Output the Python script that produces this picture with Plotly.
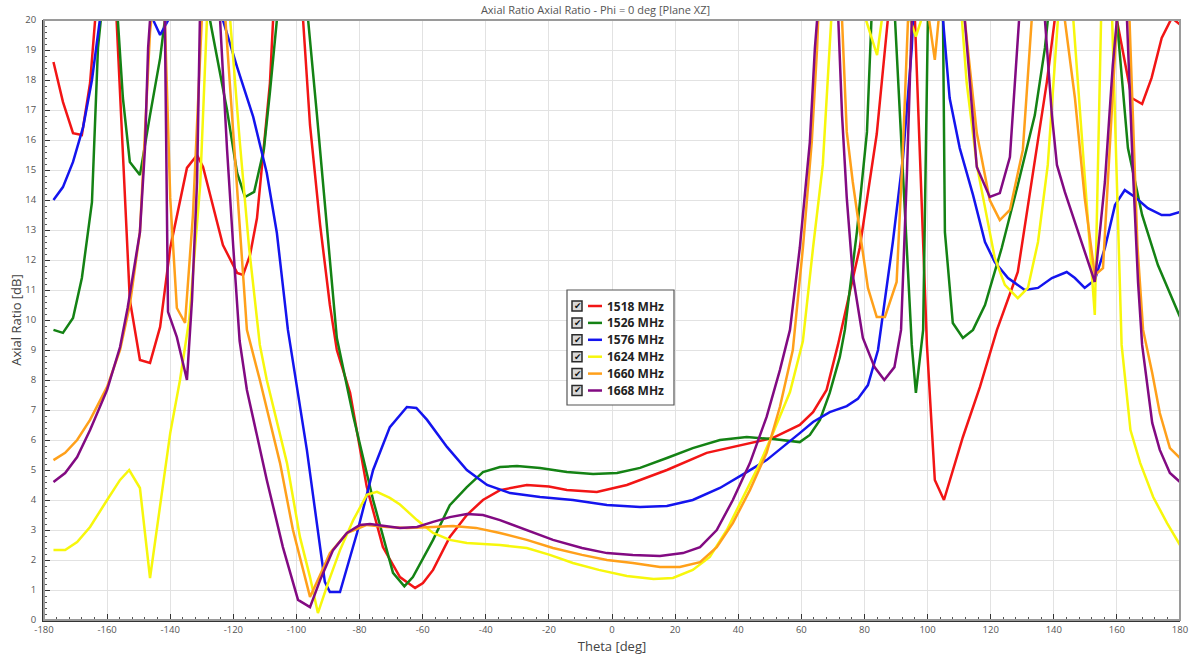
import plotly.graph_objects as go

# ---------------- data ----------------
theta_1518 = [-177, -174, -170.8, -168, -165.4, -163.8, -160, -157, -152.8, -149.6, -146.4, -143.2, -140,
              -134.7, -131.5, -129.6, -123.3, -118.8, -116.9, -114.7, -112.5, -110.6, -108.4, -107.4, -102,
              -97.9, -95.7, -92.5, -89.4, -87.2, -83, -77.7, -72.6, -67.2, -62.4, -59.9, -56.7, -51.4, -46,
              -40.9, -35.5, -27, -20, -14.3, -4.8, 4.7, 17.4, 30, 40.5, 51, 59.5, 63.7, 68, 71.6, 78.5, 83.9,
              87.4, 92, 96, 99.8, 102.3, 105.2, 111.2, 116.6, 122, 128.6, 137.8, 140.3, 150, 160, 164.7, 168,
              171, 174.2, 177.4, 180]
ar_1518 = [18.6, 17.27, 16.23, 16.17, 17.9, 20, 32, 20, 10.67, 8.67, 8.57, 9.77, 12.4,
           15.07, 15.5, 15.1, 12.5, 11.57, 11.5, 12.17, 13.4, 15.4, 17.9, 20, 35,
           20, 16.5, 13.17, 10.5, 9.0, 7.57, 4.43, 2.43, 1.43, 1.07, 1.23, 1.67, 2.77, 3.5,
           4.0, 4.33, 4.5, 4.45, 4.33, 4.27, 4.5, 5.0, 5.57, 5.83, 6.07, 6.5, 6.93, 7.67, 9.17, 12.4, 16.2,
           20, 35, 20, 9.17, 4.67, 4.0, 6.1, 7.77, 9.67, 11.6, 17.93, 20, 35, 20, 17.4, 17.2,
           18.07, 19.4, 20.07, 19.85]

theta_1526 = [-177, -174, -170.8, -168, -164.8, -163.8, -162.9, -162, -159, -156.6, -155, -152.8, -149.6,
              -146.4, -143.2, -141.7, -135, -127.4, -122, -118.8, -116.3, -113.4, -110.3, -108.4, -106.2,
              -101, -96.3, -93.5, -90.3, -87.2, -82, -75.7, -69.4, -65.8, -63.1, -56.7, -51.4, -46, -40.9,
              -35.5, -30.1, -22.8, -14.3, -6, 1.6, 8.9, 17.4, 25.6, 34.2, 42.7, 51, 59.5, 62.7, 65.9, 69,
              72.2, 73.8, 77.6, 80.8, 82.4, 86, 89.7, 92.5, 95, 96.3, 98.6, 100.1, 102.5, 104.9, 105.5, 108,
              111.2, 114.4, 118.2, 123.5, 128.6, 134, 137.2, 138.1, 150, 160, 163.5, 168, 173, 180]
ar_1526 = [9.67, 9.57, 10.07, 11.4, 13.93, 16.8, 19.07, 20, 32, 20, 17.4, 15.27, 14.83,
           16.83, 18.73, 20, 35, 20, 17.0, 14.9, 14.1, 14.27, 15.7, 17.6, 20,
           35, 20, 16.83, 13.07, 9.4, 6.8, 4.0, 1.57, 1.12, 1.43, 2.67, 3.83, 4.43, 4.93,
           5.1, 5.13, 5.07, 4.93, 4.87, 4.9, 5.07, 5.4, 5.73, 6.0, 6.1, 6.03, 5.93, 6.17, 6.67, 7.57,
           8.77, 9.67, 12.93, 16.27, 20, 30, 20, 14.5, 9.17, 7.57, 9.67, 20, 30, 20, 12.93, 9.9,
           9.4, 9.67, 10.5, 12.4, 14.5, 16.83, 19.07, 20, 35, 20, 15.73, 13.5, 11.83, 10.1]

theta_1576 = [-177, -174, -170.8, -167.6, -164.8, -162.3, -154, -145.4, -143.2, -140.6, -132, -123.3, -118.8,
              -113.7, -109.4, -106.2, -102.7, -96.7, -91, -89.4, -86.2, -80.8, -75.7, -70.4, -65, -62, -58.6,
              -52.3, -46, -39.6, -32.3, -22.8, -12.4, -1.6, 8.9, 17.4, 25.6, 34.2, 42.7, 49, 59.5, 63.7, 69,
              74.4, 77.9, 81.1, 84.3, 89, 92.2, 95, 95.4, 100, 104.9, 107, 110.2, 114.4, 118.2, 121.3, 125.5,
              130.8, 135, 139.4, 144.1, 146.7, 149.8, 153, 156.2, 159.4, 162.5, 165.7, 169.8, 174.2, 176.8, 180]
ar_1576 = [14.0, 14.43, 15.27, 16.43, 18.0, 20, 35, 20, 19.5, 20, 35, 20, 18.43,
           16.77, 14.9, 12.9, 9.67, 5.67, 1.27, 0.93, 0.93, 2.9, 5.0, 6.43, 7.1, 7.07, 6.67,
           5.77, 5.0, 4.5, 4.23, 4.1, 4.0, 3.83, 3.77, 3.8, 4.0, 4.4, 4.93, 5.33, 6.23, 6.6, 6.93,
           7.13, 7.37, 7.83, 9.0, 12.6, 15.4, 19.07, 20, 30, 20, 17.4, 15.73, 14.17, 12.6, 11.93, 11.4,
           11.0, 11.07, 11.4, 11.6, 11.4, 11.07, 11.33, 12.4, 13.83, 14.33, 14.1, 13.73, 13.5, 13.5, 13.6]

theta_1624 = [-177, -173.3, -169.5, -165.4, -160, -155.9, -153, -149.6, -146.4, -143.2, -140, -136.9, -134,
              -130.5, -128, -124.5, -121, -118, -115, -111.6, -109.4, -103, -98.9, -95.7, -93.2, -90, -86.2,
              -82, -77.7, -74.5, -70.4, -67.2, -61.8, -56.7, -51.4, -46, -35.5, -27, -19.7, -12.4, -4.2, 4.7,
              13.2, 19.3, 25.6, 31, 36.4, 41.5, 46.9, 50.5, 56.4, 60.5, 63.7, 66.8, 69, 69.7, 75, 80.5, 84,
              85.5, 90, 94.5, 96.3, 98, 104, 110.9, 112.4, 115.6, 119.7, 121.3, 124.5, 128.6, 131.8, 135,
              138.1, 140.3, 141.3, 144, 146.2, 153, 155.6, 157, 158.5, 161.5, 164.3, 167.4, 171.5, 175.9, 180]
ar_1624 = [2.33, 2.33, 2.6, 3.1, 4.0, 4.67, 5.0, 4.4, 1.4, 3.77, 6.23, 8.0, 10.0,
           14.5, 20, 30, 20, 16.0, 12.4, 9.17, 8.0, 5.23, 2.77, 1.43, 0.23, 1.23, 2.33,
           3.33, 4.17, 4.27, 4.07, 3.85, 3.33, 2.9, 2.67, 2.57, 2.5, 2.4, 2.17, 1.9, 1.67, 1.47,
           1.37, 1.4, 1.67, 2.1, 3.0, 4.1, 5.23, 6.1, 7.6, 9.3, 12.4, 15.17, 19.07, 20, 30, 20, 18.83,
           20, 30, 20, 19.45, 20, 30, 20, 17.9, 15.17, 12.93, 12.07, 11.17, 10.73, 11.07, 12.6,
           15.17, 18.5, 20, 30, 20, 10.17, 20, 30, 20, 9.17, 6.33, 5.23, 4.1, 3.23, 2.5]

theta_1660 = [-177, -173.3, -169.5, -165.4, -160, -155.9, -152.8, -149.6, -146.4, -146, -144, -141.7, -140,
              -137.9, -135.3, -132.8, -130, -126, -122.5, -115.7, -111.6, -105.2, -101.1, -97.9, -95.7, -92.5,
              -89.4, -84, -77.7, -71.3, -65, -56.7, -50.4, -43.1, -35.5, -27, -18.7, -9.5, -1.6, 6.6, 15.2,
              21.5, 27.9, 33.2, 38.3, 43.7, 49, 53.2, 57.3, 60.5, 63.3, 65, 65.3, 69, 72.9, 74.4, 76.3, 79.2,
              81.1, 83.9, 86.5, 90.2, 92.2, 93.8, 97, 100.5, 102.3, 103.5, 107, 111.8, 115.6, 119.7, 122.9,
              126.1, 130.2, 133, 138, 143.5, 146.7, 149.8, 153, 155.6, 157.8, 160, 162, 164, 166.5, 168.3,
              171.2, 173.6, 176.8, 180]
ar_1660 = [5.33, 5.57, 6.0, 6.67, 7.77, 9.0, 10.5, 12.93, 19.6, 20, 30, 20, 14.07,
           10.4, 9.9, 13.5, 20, 30, 20, 9.67, 8.0, 5.23, 3.0, 1.67, 0.77, 1.5,
           2.23, 2.9, 3.17, 3.1, 3.07, 3.1, 3.13, 3.07, 2.9, 2.67, 2.4, 2.17, 2.0, 1.9, 1.77,
           1.77, 1.93, 2.43, 3.23, 4.33, 5.57, 7.1, 9.0, 12.4, 15.93, 19.07, 20, 30, 20, 16.27, 14.6, 12.4,
           11.07, 10.1, 10.1, 11.27, 15.73, 20, 30, 20, 18.67, 20, 30, 20, 16.23, 14.0, 13.33,
           13.67, 15.67, 20, 30, 20, 17.4, 14.07, 11.5, 11.73, 15.73, 20, 30, 20, 12.5, 9.67,
           8.23, 6.9, 5.73, 5.4]

theta_1668 = [-177, -173.3, -169.5, -165.4, -160, -155.9, -153.5, -149.6, -148, -147, -146.4, -144, -141.7,
              -140.7, -137.9, -134.7, -133.1, -131.5, -130.6, -127.5, -124.2, -122, -120, -118, -115.7, -109.4,
              -104.3, -99.5, -95.7, -92.5, -88.4, -84, -79.9, -76.7, -67.2, -61.8, -56.7, -51.4, -46, -40.9,
              -35.5, -27, -18.7, -9.5, -1.6, 6.6, 15.2, 22.5, 27.9, 33.2, 38.3, 43.7, 49, 53.2, 56.4, 59.5,
              62.7, 64.3, 65, 68, 71.6, 72.9, 74.4, 76.3, 79.5, 83.2, 86.3, 89.5, 91.6, 93.5, 95, 103, 111.8,
              115.6, 119.7, 122.9, 126.1, 129, 133, 137.2, 139.4, 141, 143.5, 146.7, 149.8, 153, 156.2, 158.7,
              160, 161.5, 163.2, 165, 166.7, 168, 171.2, 173.6, 176.8, 180]
ar_1668 = [4.6, 4.9, 5.43, 6.33, 7.67, 9.1, 10.4, 12.93, 15.73, 19.07, 20, 30, 20,
           10.27, 9.43, 8.0, 10.67, 14.6, 20, 30, 20, 15.7, 12.4, 9.3, 7.67, 4.67,
           2.43, 0.67, 0.43, 1.33, 2.33, 2.9, 3.17, 3.2, 3.07, 3.1, 3.27, 3.43, 3.53, 3.5,
           3.33, 3.0, 2.67, 2.4, 2.23, 2.17, 2.13, 2.23, 2.43, 3.0, 4.0, 5.23, 6.77, 8.33, 9.67, 12.4,
           15.93, 19.07, 20, 30, 20, 16.83, 14.07, 11.5, 9.4, 8.43, 8.0, 8.43, 9.67, 15.0, 20, 30, 20,
           15.1, 14.1, 14.23, 15.43, 20, 30, 20, 16.83, 15.17, 14.27, 13.27, 12.27, 11.27, 14.6, 18.5,
           20, 30, 20, 15.17, 11.27, 9.17, 6.57, 5.67, 4.9, 4.6]

series_names = ["1518 MHz", "1526 MHz", "1576 MHz", "1624 MHz", "1660 MHz", "1668 MHz"]
series_theta = [theta_1518, theta_1526, theta_1576, theta_1624, theta_1660, theta_1668]
series_ar = [ar_1518, ar_1526, ar_1576, ar_1624, ar_1660, ar_1668]
series_colors = ["#f21515", "#148214", "#1414ee", "#f7f70c", "#ffa01a", "#820a82"]

x_tick_vals = [-180, -160, -140, -120, -100, -80, -60, -40, -20, 0, 20, 40, 60, 80, 100, 120, 140, 160, 180]
x_tick_text = ["-180", "-160", "-140", "-120", "-100", "-80", "-60", "-40", "-20", "0",
               "20", "40", "60", "80", "100", "120", "140", "160", "180"]
y_tick_vals = [0, 1, 2, 3, 4, 5, 6, 7, 8, 9, 10, 11, 12, 13, 14, 15, 16, 17, 18, 19, 20]

title_text = "Axial Ratio Axial Ratio - Phi = 0 deg [Plane XZ]"
x_title = "Theta [deg]"
y_title = "Axial Ratio [dB]"

# ---------------- figure ----------------
W, H = 1191, 665
ML, MR, MT, MB = 44, 11, 20, 45
PW, PH = W - ML - MR, H - MT - MB

fig = go.Figure()
for name, th, ar, col in zip(series_names, series_theta, series_ar, series_colors):
    assert len(th) == len(ar), name
    fig.add_trace(go.Scatter(x=th, y=ar, mode="lines", name=name,
                             line=dict(color=col, width=2.5), showlegend=False))

axis_font = dict(family="Open Sans, DejaVu Sans, sans-serif", size=9.5, color="#555")
fig.update_xaxes(range=[-180, 180], tickvals=x_tick_vals, ticktext=x_tick_text,
                 showgrid=True, gridcolor="#e2e2e2", gridwidth=1, zeroline=False,
                 showline=True, linecolor="#333", linewidth=2,
                 ticks="inside", ticklen=6, tickcolor="#333", tickwidth=1,
                 minor=dict(dtick=4, ticks="inside", ticklen=3, tickcolor="#555", showgrid=False),
                 tickfont=axis_font,
                 title=dict(text=x_title, font=dict(family="Open Sans, sans-serif", size=13, color="#444"),
                            standoff=6))
fig.update_yaxes(range=[0, 20], tickvals=y_tick_vals,
                 showgrid=True, gridcolor="#e2e2e2", gridwidth=1, zeroline=False,
                 showline=True, linecolor="#333", linewidth=2,
                 ticks="inside", ticklen=6, tickcolor="#333", tickwidth=1,
                 minor=dict(dtick=0.2, ticks="inside", ticklen=3, tickcolor="#555", showgrid=False),
                 tickfont=axis_font, ticklabelstandoff=4,
                 title=dict(text=y_title, font=dict(family="Open Sans, sans-serif", size=13, color="#444"),
                            standoff=1))

shapes = [dict(type="rect", xref="paper", yref="paper", x0=0, x1=1, y0=0, y1=1,
               line=dict(color="#9a9a9a", width=2), layer="above")]
annotations = []

# custom legend (checkbox + short line + label), positioned in pixels of the plot area
def px2x(px):
    return (px - ML) / PW

def py2y(py):
    return (MT + PH - py) / PH

box_l, box_r, box_t, box_b = 567, 674, 290, 405
shapes.append(dict(type="rect", xref="paper", yref="paper",
                   x0=px2x(box_l), x1=px2x(box_r), y0=py2y(box_b), y1=py2y(box_t),
                   line=dict(color="#555", width=1.2), fillcolor="white", layer="above"))
row0, row_step = 306, 16.9
for i, (name, col) in enumerate(zip(series_names, series_colors)):
    py = row0 + i * row_step
    shapes.append(dict(type="rect", xref="paper", yref="paper",
                       x0=px2x(572), x1=px2x(582), y0=py2y(py + 5), y1=py2y(py - 5),
                       line=dict(color="#2a2a2a", width=1.5), fillcolor="#d8d8d8", layer="above"))
    annotations.append(dict(xref="paper", yref="paper", x=px2x(577.5), y=py2y(py), text="✔",
                            showarrow=False, xanchor="center", yanchor="middle",
                            font=dict(family="DejaVu Sans", size=9, color="#111")))
    shapes.append(dict(type="line", xref="paper", yref="paper", x0=px2x(588), x1=px2x(602),
                       y0=py2y(py), y1=py2y(py), line=dict(color=col, width=2.5), layer="above"))
    annotations.append(dict(xref="paper", yref="paper", x=px2x(605), y=py2y(py), text="<b>%s</b>" % name,
                            showarrow=False, xanchor="left", yanchor="middle",
                            font=dict(family="Open Sans, sans-serif", size=12, color="#222")))

fig.update_layout(
    width=W, height=H,
    margin=dict(l=ML, r=MR, t=MT, b=MB, autoexpand=False),
    paper_bgcolor="white", plot_bgcolor="white",
    title=dict(text=title_text, x=0.5, xref="container", xanchor="center",
               y=1 - 10 / H, yref="container", yanchor="middle",
               font=dict(family="Open Sans, sans-serif", size=11, color="#555")),
    shapes=shapes, annotations=annotations,
)

fig.write_html("out.html", config={"displayModeBar": False},
               post_script="document.body.style.margin='0';document.body.style.padding='0';")
